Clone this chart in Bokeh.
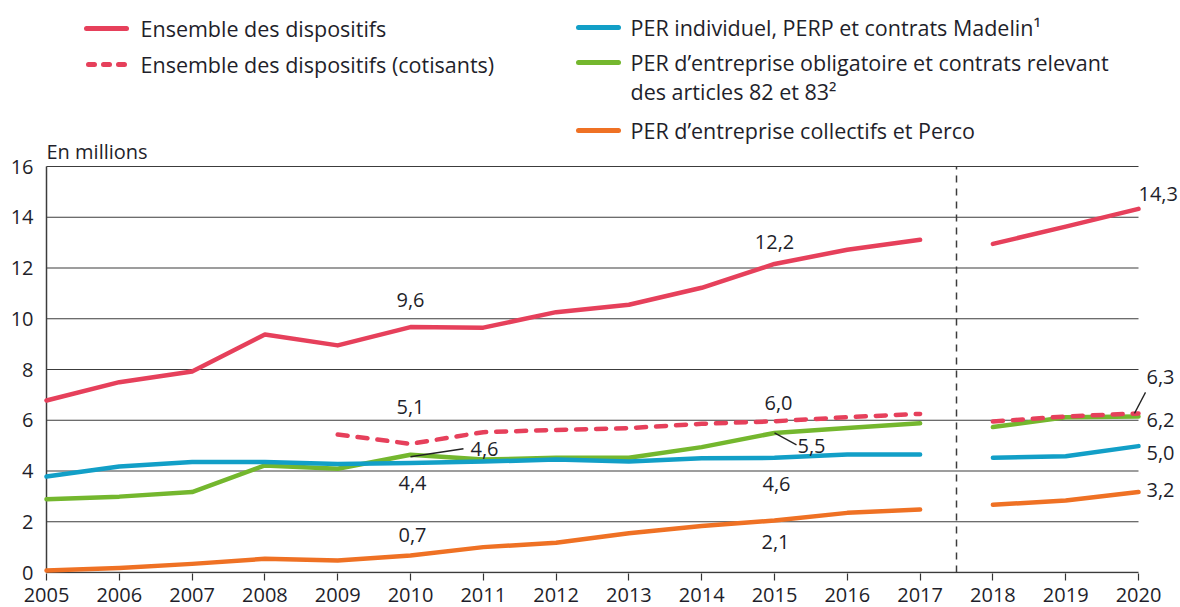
from bokeh.plotting import figure
from bokeh.models import Range1d, FixedTicker
from bokeh.embed import file_html
from bokeh.resources import INLINE
from bokeh.core.properties import value

# ---------------- data ----------------
years = list(range(2005, 2021))
years_a = list(range(2005, 2018))          # 2005-2017
years_b = [2018, 2019, 2020]               # 2018-2020
years_cot_a = list(range(2009, 2018))      # cotisants 2009-2017

ensemble_a = [6.78, 7.5, 7.92, 9.38, 8.95, 9.67, 9.65, 10.26, 10.55, 11.22, 12.16, 12.72, 13.11]
ensemble_b = [12.95, 13.63, 14.33]
cotisants_a = [5.44, 5.07, 5.53, 5.62, 5.69, 5.86, 5.96, 6.12, 6.25]
cotisants_b = [5.95, 6.15, 6.27]
per_ind_a = [3.78, 4.18, 4.35, 4.35, 4.28, 4.32, 4.37, 4.45, 4.37, 4.5, 4.52, 4.65, 4.65]
per_ind_b = [4.52, 4.58, 4.98]
per_obl_a = [2.89, 2.99, 3.17, 4.22, 4.09, 4.64, 4.45, 4.52, 4.52, 4.94, 5.5, 5.69, 5.88]
per_obl_b = [5.73, 6.12, 6.15]
per_col_a = [0.08, 0.18, 0.34, 0.54, 0.47, 0.67, 1.0, 1.17, 1.55, 1.83, 2.05, 2.35, 2.48]
per_col_b = [2.67, 2.84, 3.17]

y_ticks = [0, 2, 4, 6, 8, 10, 12, 14, 16]
legend_labels = ["Ensemble des dispositifs",
                 "Ensemble des dispositifs (cotisants)",
                 "PER individuel, PERP et contrats Madelin\u00b9",
                 "PER d\u2019entreprise obligatoire et contrats relevant",
                 "des articles 82 et 83\u00b2",
                 "PER d\u2019entreprise collectifs et Perco"]
unit_label = "En millions"

# ---------------- style / layout ----------------
RED, BLUE, GREEN, ORANGE = "#e6405b", "#129fc7", "#74b72e", "#ef7124"
TXT = "#1f1f2b"
FONT = "Open Sans"
LW = 4.5

FW, FH = 1180, 607
BL, BR, BT, BB = 43, 0, 0, 34
frame_w = FW - BL - BR
frame_h = FH - BT - BB
PXY = 72.8      # px per year
PXV = 25.375    # px per unit
x0 = 2005 - 3 / PXY
x1 = x0 + frame_w / PXY
y0 = -1 / PXV
y1 = y0 + frame_h / PXV


def sx(px):  # page px -> data x
    return x0 + (px - BL) / PXY


def sy(py):  # page px -> data y
    return y1 - (py - BT) / PXV


p = figure(width=FW, height=FH, output_backend="svg", toolbar_location=None,
           x_range=Range1d(x0, x1), y_range=Range1d(y0, y1),
           min_border_left=BL, min_border_right=BR, min_border_top=BT, min_border_bottom=BB)
p.outline_line_color = None
p.xgrid.visible = False
p.ygrid.visible = False
p.background_fill_color = "white"
p.border_fill_color = "white"

# axes
p.xaxis.ticker = FixedTicker(ticks=years)
p.xaxis.axis_line_color = None
p.xaxis.major_tick_in = 0
p.xaxis.major_tick_out = 7
p.xaxis.major_tick_line_color = "#333333"
p.xaxis.major_tick_line_width = 1.2
p.xaxis.minor_tick_line_color = None
p.xaxis.major_label_standoff = 7
p.xaxis.major_label_text_font = FONT
p.xaxis.major_label_text_font_size = "20px"
p.xaxis.major_label_text_color = TXT

p.yaxis.ticker = FixedTicker(ticks=y_ticks)
p.yaxis.axis_line_color = None
p.yaxis.major_tick_in = 0
p.yaxis.major_tick_out = 0
p.yaxis.minor_tick_line_color = None
p.yaxis.major_label_standoff = 10
p.yaxis.major_label_text_font = FONT
p.yaxis.major_label_text_font_size = "20px"
p.yaxis.major_label_text_color = TXT

# gridlines (2005 -> 2020) and axis lines
g = y_ticks[1:]
p.segment(x0=[years[0]] * len(g), x1=[years[-1]] * len(g), y0=g, y1=g,
          line_color="#3c3c3c", line_width=1.2)
p.segment(x0=[years[0]], x1=[years[-1]], y0=[0], y1=[0], line_color="#3c3c3c", line_width=1.5)
p.segment(x0=[years[0]], x1=[years[0]], y0=[0], y1=[y_ticks[-1]], line_color="#3c3c3c", line_width=1.5)

# separator between 2017 and 2018
sep = (years_a[-1] + years_b[0]) / 2
p.segment(x0=[sep], x1=[sep], y0=[0], y1=[y_ticks[-1]], line_color="#3c3c3c",
          line_width=1.5, line_dash="7 6")

# series
for xs, ys, col in [(years_a, per_col_a, ORANGE), (years_b, per_col_b, ORANGE),
                    (years_a, per_obl_a, GREEN), (years_b, per_obl_b, GREEN),
                    (years_a, per_ind_a, BLUE), (years_b, per_ind_b, BLUE)]:
    p.line(xs, ys, line_color=col, line_width=LW, line_cap="round", line_join="round")
for xs, ys in [(years_cot_a, cotisants_a), (years_b, cotisants_b)]:
    p.line(xs, ys, line_color=RED, line_width=LW, line_dash="10 10", line_cap="round", line_join="round")
for xs, ys in [(years_a, ensemble_a), (years_b, ensemble_b)]:
    p.line(xs, ys, line_color=RED, line_width=LW, line_cap="round", line_join="round")


def val(series_a, series_b, yr, ya=years_a):
    if yr in ya:
        return series_a[ya.index(yr)]
    return series_b[years_b.index(yr)]


# value labels: (text, year, value, dx px, dy px up, align)
labels = [
    ("9,6", 2010, val(ensemble_a, ensemble_b, 2010), 0, 27, "center"),
    ("12,2", 2015, val(ensemble_a, ensemble_b, 2015), 0, 22, "center"),
    ("14,3", 2020, val(ensemble_a, ensemble_b, 2020), 0, 15, "left"),
    ("5,1", 2010, val(cotisants_a, cotisants_b, 2010, years_cot_a), 0, 37, "center"),
    ("6,0", 2015, val(cotisants_a, cotisants_b, 2015, years_cot_a), 4, 18, "center"),
    ("6,3", 2020, val(cotisants_a, cotisants_b, 2020, years_cot_a), 8, 36, "left"),
    ("4,6", 2010, val(per_obl_a, per_obl_b, 2010), 60, 6, "left"),
    ("4,4", 2010, val(per_ind_a, per_ind_b, 2010), 2, -20, "center"),
    ("5,5", 2015, val(per_obl_a, per_obl_b, 2015), 23, -13, "left"),
    ("4,6", 2015, val(per_ind_a, per_ind_b, 2015), 2, -26, "center"),
    ("6,2", 2020, val(per_obl_a, per_obl_b, 2020), 8, -4, "left"),
    ("5,0", 2020, val(per_ind_a, per_ind_b, 2020), 8, -7, "left"),
    ("3,2", 2020, val(per_col_a, per_col_b, 2020), 8, 2, "left"),
    ("0,7", 2010, val(per_col_a, per_col_b, 2010), 2, 20, "center"),
    ("2,1", 2015, val(per_col_a, per_col_b, 2015), 1, -22, "center"),
]
for t, yr, v, dx, dy, al in labels:
    p.text(x=[yr + dx / PXY], y=[v + dy / PXV], text=[t], text_font=value(FONT),
           text_font_size="20px", text_color=TXT, text_align=al, text_baseline="middle")

# leader lines: (year, value, dx0, dy0, dx1, dy1)
leaders = [
    (2010, val(per_obl_a, per_obl_b, 2010), 0, -2, 53, 6),
    (2015, val(per_obl_a, per_obl_b, 2015), 0, 0, 22, -12),
    (2020, val(cotisants_a, cotisants_b, 2020, years_cot_a), -4, 0, 7, 21),
]
for yr, v, a, b, c, d in leaders:
    p.segment(x0=[yr + a / PXY], y0=[v + b / PXV], x1=[yr + c / PXY], y1=[v + d / PXV],
              line_color="#222222", line_width=1.3)

# legend (manual)
leg = [  # (label index, color, dash, sample x-left px, y px, text x px)
    (0, RED, "solid", 86, 28, 140),
    (1, RED, "6 9", 88, 64, 140),
    (2, BLUE, "solid", 578, 27, 630),
    (3, GREEN, "solid", 578, 62, 630),
    (5, ORANGE, "solid", 578, 130, 630),
]
for i, col, dash, lx, ly, tx in leg:
    p.line([sx(lx), sx(lx + 40)], [sy(ly), sy(ly)], line_color=col, line_width=5,
           line_cap="round", line_dash=dash)
    p.text(x=[sx(tx)], y=[sy(ly)], text=[legend_labels[i]], text_font=value(FONT),
           text_font_size="21.5px", text_color=TXT, text_baseline="middle")
p.text(x=[sx(630)], y=[sy(91)], text=[legend_labels[4]], text_font=value(FONT),
       text_font_size="21.5px", text_color=TXT, text_baseline="middle")

# unit label
p.text(x=[years[0]], y=[y_ticks[-1] + 15 / PXV], text=[unit_label], text_font=value(FONT),
       text_font_size="20px", text_color=TXT, text_baseline="middle")

open("out.html", "w").write(file_html(p, INLINE))
